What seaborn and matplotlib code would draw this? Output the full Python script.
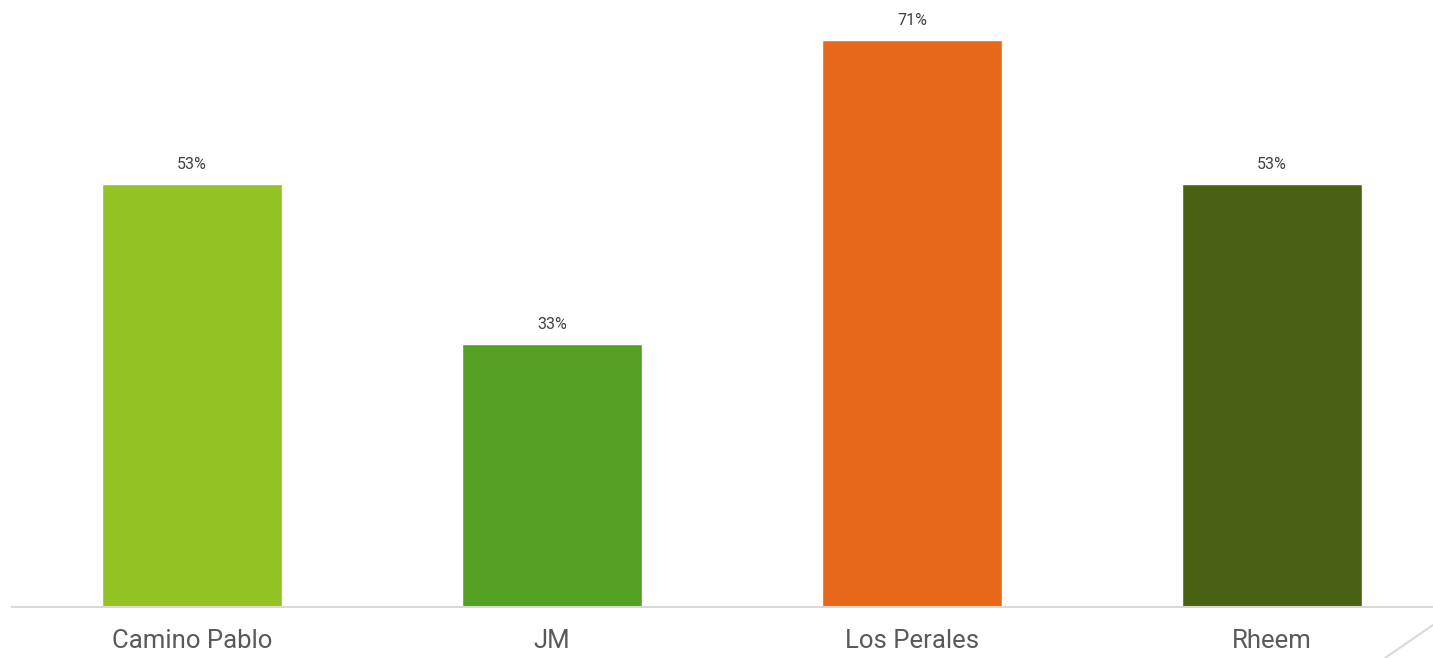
import matplotlib
matplotlib.use("Agg")
import matplotlib.pyplot as plt
import seaborn as sns
import pandas as pd

sites = ["Camino Pablo", "JM", "Los Perales", "Rheem"]
values = [53, 33, 71, 53]
colors = ["#93C225", "#53A022", "#E8681A", "#4A6113"]

df = pd.DataFrame({"site": sites, "value": values})

sns.set_style("white")
plt.rcParams["font.family"] = ["Roboto", "DejaVu Sans"]

fig = plt.figure(figsize=(14.33, 6.58), dpi=100)
ax = fig.add_axes([12 / 1433, 51 / 658, 1 - 12 / 1433, 607 / 658])

sns.barplot(data=df, x="site", y="value", hue="site", palette=colors,
            width=0.5, legend=False, ax=ax, saturation=1)

ax.set_xlim(-0.5, 3.447)
ax.set_ylim(0, 76.06)

for i, v in enumerate(values):
    ax.text(i, v + 1.5, f"{v}%", ha="center", va="bottom",
            fontsize=11.5, color="#404040")

for s in ["top", "right", "left"]:
    ax.spines[s].set_visible(False)
ax.spines["bottom"].set_color("#D9D9D9")
ax.spines["bottom"].set_linewidth(1.5)

ax.set_yticks([])
ax.set_xlabel("")
ax.set_ylabel("")
ax.tick_params(axis="x", length=0, pad=16, labelsize=18.5, labelcolor="#595959")

# small decorative stroke at the bottom right corner
fig.add_artist(plt.Line2D([1385 / 1433, 1433 / 1433], [0, 33 / 658],
                          transform=fig.transFigure, color="#D9D9D9", lw=1.5))

fig.savefig("out.png", dpi=100)
